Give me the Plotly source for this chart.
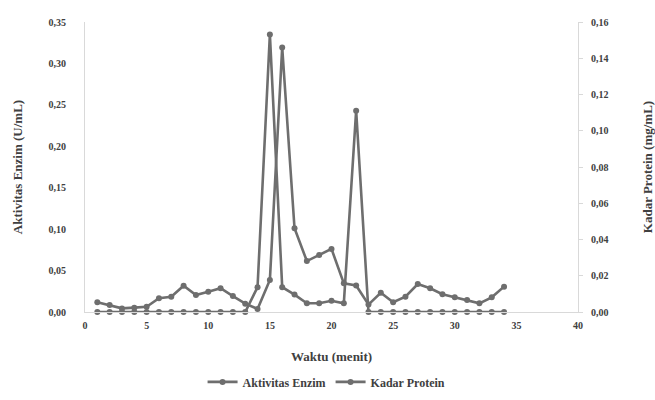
import plotly.graph_objects as go

waktu = list(range(1, 35))
aktivitas_enzim = [0, 0, 0, 0, 0, 0, 0, 0, 0, 0, 0, 0, 0, 0.030, 0.335, 0.030,
                   0.021, 0.0105, 0.0105, 0.0136, 0.0105, 0.243, 0, 0, 0, 0, 0,
                   0, 0, 0, 0, 0, 0, 0]
kadar_protein = [0.0054, 0.0039, 0.0020, 0.0024, 0.0029, 0.0076, 0.0084, 0.0145,
                 0.0094, 0.0112, 0.0131, 0.0088, 0.0046, 0.0017, 0.0177, 0.146,
                 0.0462, 0.0281, 0.0314, 0.0348, 0.0158, 0.0146, 0.0041, 0.0106,
                 0.0054, 0.0084, 0.0154, 0.0131, 0.0098, 0.0081, 0.0066, 0.0048,
                 0.0081, 0.0140]

x_ticks = [0, 5, 10, 15, 20, 25, 30, 35, 40]
left_ticks = [0, 0.05, 0.10, 0.15, 0.20, 0.25, 0.30, 0.35]
right_ticks = [0, 0.02, 0.04, 0.06, 0.08, 0.10, 0.12, 0.14, 0.16]

line_col = "#6e6e6e"
font_fam = "Times New Roman, Liberation Serif, DejaVu Serif, serif"
txt_col = "#404040"

fig = go.Figure()
fig.add_trace(go.Scatter(
    x=waktu, y=aktivitas_enzim, name="Aktivitas Enzim", mode="lines+markers",
    line=dict(color=line_col, width=2.6), marker=dict(color=line_col, size=6),
    cliponaxis=False, yaxis="y"))
fig.add_trace(go.Scatter(
    x=waktu, y=kadar_protein, name="Kadar Protein", mode="lines+markers",
    line=dict(color=line_col, width=2.6), marker=dict(color=line_col, size=6),
    cliponaxis=False, yaxis="y2"))

fig.update_layout(
    width=655, height=400,
    margin=dict(l=85, r=77, t=22, b=88, autoexpand=False),
    paper_bgcolor="white", plot_bgcolor="white",
    separators=",.",
    font=dict(family=font_fam, size=10, color=txt_col),
    showlegend=True,
    legend=dict(orientation="h", x=0.49, xanchor="center", y=-0.241, yanchor="middle",
                font=dict(family=font_fam, size=12, color=txt_col, weight="bold"),
                itemwidth=30, tracegroupgap=0, bgcolor="rgba(0,0,0,0)"),
    xaxis=dict(range=[0, 40], tickvals=x_ticks, showgrid=False, zeroline=False,
               showline=True, linecolor="#d9d9d9", linewidth=1, ticks="",
               automargin=False, ticklabelstandoff=4,
               tickfont=dict(family=font_fam, size=10, color=txt_col, weight="bold"),
               title=dict(text="Waktu (menit)", standoff=21,
                          font=dict(family=font_fam, size=13, color=txt_col, weight="bold"))),
    yaxis=dict(range=[0, 0.35], tickvals=left_ticks, tickformat=".2f", showgrid=False,
               zeroline=False, showline=True, linecolor="#d9d9d9", linewidth=1, ticks="",
               ticklabelstandoff=16, automargin=False,
               tickfont=dict(family=font_fam, size=10, color=txt_col, weight="bold"),
               title=dict(text="Aktivitas Enzim (U/mL)", standoff=22,
                          font=dict(family=font_fam, size=13, color=txt_col, weight="bold"))),
    yaxis2=dict(range=[0, 0.16], tickvals=right_ticks, tickformat=".2f", overlaying="y",
                side="right", showgrid=False, zeroline=False, showline=True,
                linecolor="#d9d9d9", linewidth=1, ticks="outside", ticklen=4,
                tickcolor="#d9d9d9", ticklabelstandoff=6, automargin=False,
                tickfont=dict(family=font_fam, size=10, color=txt_col, weight="bold"),
                title=dict(text="Kadar Protein (mg/mL)", standoff=36,
                           font=dict(family=font_fam, size=13, color=txt_col, weight="bold"))),
)

fig.write_html("out.html", config={"displayModeBar": False},
               post_script="document.body.style.margin='0px';")
